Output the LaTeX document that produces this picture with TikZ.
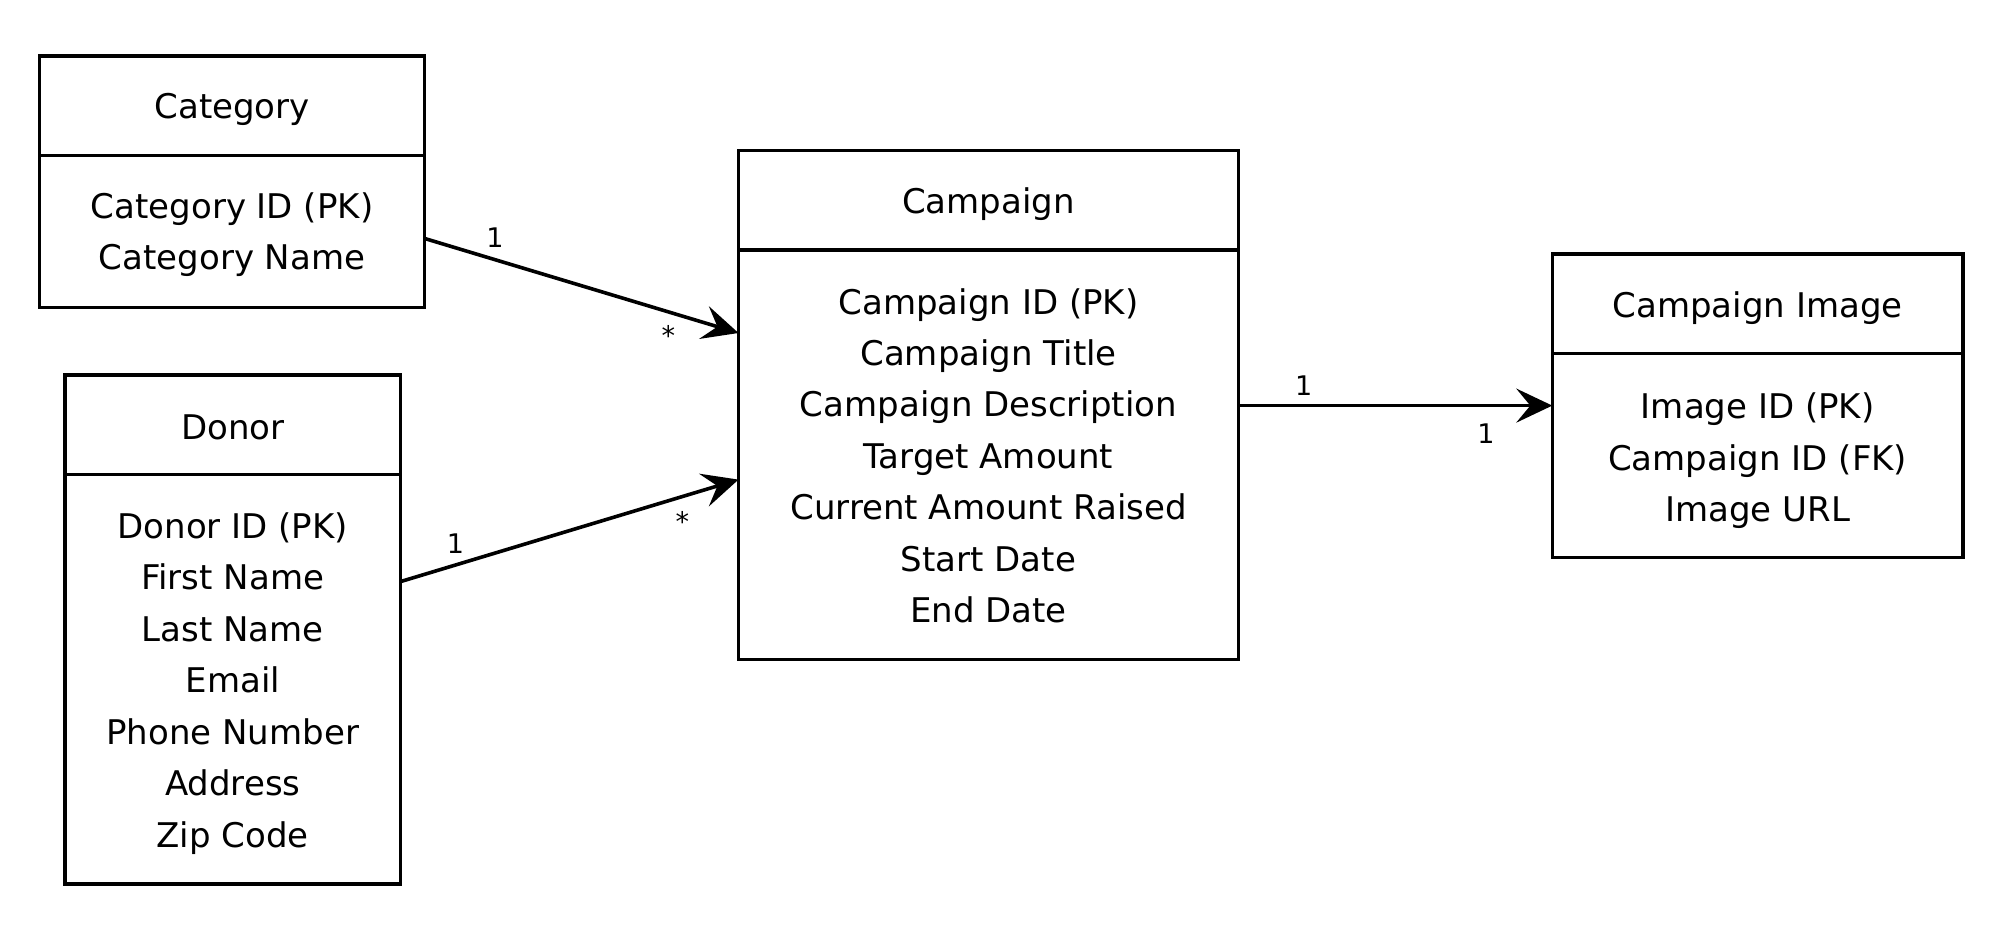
\documentclass[tikz,border=0pt]{standalone}
\usepackage{fontspec}
\setmainfont{DejaVu Sans}
\usetikzlibrary{arrows.meta}
\begin{document}
\begin{tikzpicture}[x=0.5pt,y=-0.5pt,
  box/.style={draw=black,line width=1.7pt,fill=none,inner sep=0pt,outer sep=0pt},
  divline/.style={draw=black,line width=1.7pt},
  txt/.style={anchor=base,inner sep=0pt,font=\fontsize{17pt}{20pt}\selectfont},
  card/.style={inner sep=0pt,font=\fontsize{13.5pt}{15pt}\selectfont},
  conn/.style={draw=black,line width=1.8pt,-{Stealth[length=18pt,width=17pt,inset=7pt]}}]
\useasboundingbox (0,0) rectangle (2000,947);
\fill[white] (0,0) rectangle (2000,947);

% boxes
\node[box,minimum width=192.6pt,minimum height=125.7pt] (cat) at (232.1,181.7) {};
\node[box,minimum width=167.75pt,minimum height=254.5pt] (don) at (232.75,629.5) {};
\node[box,minimum width=250pt,minimum height=254.45pt] (camp) at (988.5,404.95) {};
\node[box,minimum width=205.35pt,minimum height=151.8pt] (img) at (1757.65,405.6) {};

% dividers
\draw[divline] (cat.west |- 0,155.6) -- (cat.east |- 0,155.6);
\draw[divline] (don.west |- 0,474.5) -- (don.east |- 0,474.5);
\draw[divline] (camp.west |- 0,250) -- (camp.east |- 0,250);
\draw[divline] (img.west |- 0,353.3) -- (img.east |- 0,353.3);

% titles
\node[txt] (catT) at (232.1,118.8) {Category};
\node[txt] (donT) at (232.75,439) {Donor};
\node[txt] (campT) at (988.5,213.3) {Campaign};
\node[txt] (imgT) at (1757.65,317.8) {Campaign Image};

% attributes
\foreach \t [count=\i from 0] in {Category ID (PK),Category Name}
  \node[txt] (catA\i) at (232.1,218.4+51.45*\i) {\t};
\foreach \t [count=\i from 0] in {Donor ID (PK),First Name,Last Name,Email,Phone Number,Address,Zip Code}
  \node[txt] (donA\i) at (232.75,538.5+51.45*\i) {\t};
\foreach \t [count=\i from 0] in {Campaign ID (PK),Campaign Title,Campaign Description,Target Amount,Current Amount Raised,Start Date,End Date}
  \node[txt] (campA\i) at (988.5,314+51.45*\i) {\t};
\foreach \t [count=\i from 0] in {Image ID (PK),Campaign ID (FK),Image URL}
  \node[txt] (imgA\i) at (1757.65,418.6+51.45*\i) {\t};

% connectors
\draw[conn] (cat.east |- 0,238.5) -- (camp.west |- 0,333);
\draw[conn] (don.east |- 0,581.6) -- (camp.west |- 0,479.6);
\draw[conn] (camp.east |- img.west) -- (img.west);

% cardinalities
\node[card] (c1) at (494.9,237.2) {1};
\node[card] (c2) at (668.4,335.5) {*};
\node[card] (c3) at (455.4,543.4) {1};
\node[card] (c4) at (682.4,521.7) {*};
\node[card] (c5) at (1303.6,385.2) {1};
\node[card] (c6) at (1486,433.7) {1};
\end{tikzpicture}
\end{document}
